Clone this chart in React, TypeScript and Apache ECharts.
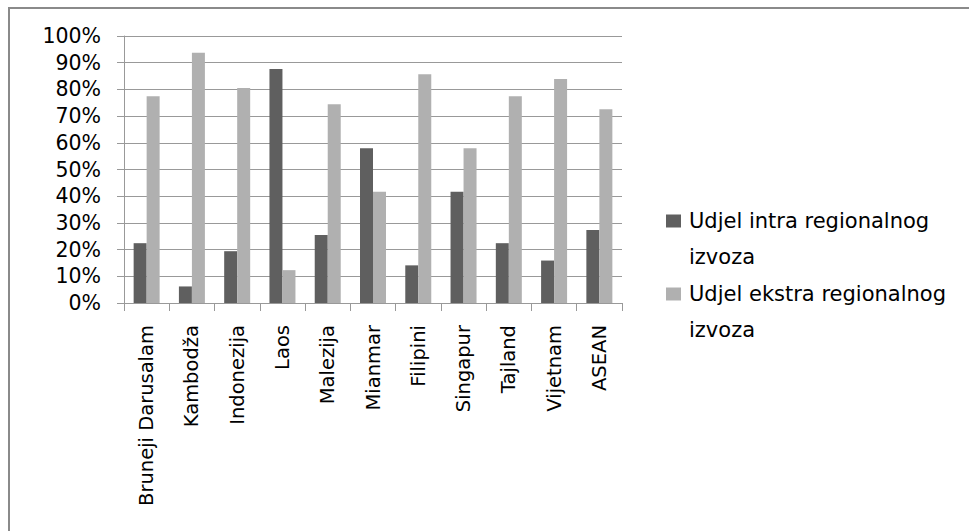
import React, { useEffect, useRef } from "react";
import * as echarts from "echarts";

const categories = [
  "Bruneji Darusalam",
  "Kambodža",
  "Indonezija",
  "Laos",
  "Malezija",
  "Mianmar",
  "Filipini",
  "Singapur",
  "Tajland",
  "Vijetnam",
  "ASEAN",
];

const intraValues = [22.4, 6.2, 19.4, 87.6, 25.5, 58.0, 14.1, 41.7, 22.4, 15.9, 27.3];
const extraValues = [77.4, 93.7, 80.5, 12.3, 74.4, 41.7, 85.7, 58.0, 77.4, 83.9, 72.6];

const seriesNames = [
  "Udjel intra regionalnog\nizvoza",
  "Udjel ekstra regionalnog\nizvoza",
];

const FONT = "DejaVu Sans";

export default function App() {
  const ref = useRef<HTMLDivElement>(null);

  useEffect(() => {
    if (!ref.current) return;
    const chart = echarts.init(ref.current, null, { renderer: "svg" });
    chart.setOption({
      animation: false,
      backgroundColor: "#ffffff",
      graphic: [
        {
          type: "rect",
          shape: { x: 9, y: 8, width: 1100, height: 700 },
          style: { fill: "none", stroke: "#8a8a8a", lineWidth: 2 },
          silent: true,
        },
      ],
      grid: { left: 124, top: 36, width: 498, height: 267, containLabel: false },
      legend: {
        orient: "vertical",
        left: 666,
        top: 167,
        padding: 0,
        itemWidth: 15,
        itemHeight: 13,
        itemGap: -35,
        icon: "rect",
        data: seriesNames,
        selectedMode: false,
        formatter: (name: string) => "\n" + name,
        textStyle: {
          fontFamily: FONT,
          fontSize: 21,
          color: "#000",
          lineHeight: 36,
          padding: [0, 0, 0, 3],
        },
      },
      xAxis: {
        type: "category",
        data: categories,
        boundaryGap: true,
        axisLine: { show: true, lineStyle: { color: "#999", width: 1 } },
        axisTick: { show: true, length: 8, lineStyle: { color: "#999" } },
        axisLabel: {
          rotate: 90,
          margin: 22,
          interval: 0,
          fontFamily: FONT,
          fontSize: 19.5,
          color: "#000",
        },
        splitLine: { show: false },
      },
      yAxis: {
        type: "value",
        min: 0,
        max: 100,
        interval: 10,
        axisLine: { show: true, lineStyle: { color: "#999", width: 1 } },
        axisTick: { show: true, length: 7, lineStyle: { color: "#999" } },
        axisLabel: {
          formatter: "{value}%",
          margin: 23,
          fontFamily: FONT,
          fontSize: 20.5,
          color: "#000",
        },
        splitLine: { show: true, lineStyle: { color: "#999", width: 1 } },
      },
      series: [
        {
          name: seriesNames[0],
          type: "bar",
          data: intraValues,
          barWidth: 13,
          barGap: "0%",
          itemStyle: { color: "#5f5f5f" },
        },
        {
          name: seriesNames[1],
          type: "bar",
          data: extraValues,
          barWidth: 13,
          barGap: "0%",
          itemStyle: { color: "#b0b0b0" },
        },
      ],
    });
    return () => chart.dispose();
  }, []);

  return (
    <div
      ref={ref}
      style={{ position: "absolute", left: 0, top: 0, width: 969, height: 531 }}
    />
  );
}
